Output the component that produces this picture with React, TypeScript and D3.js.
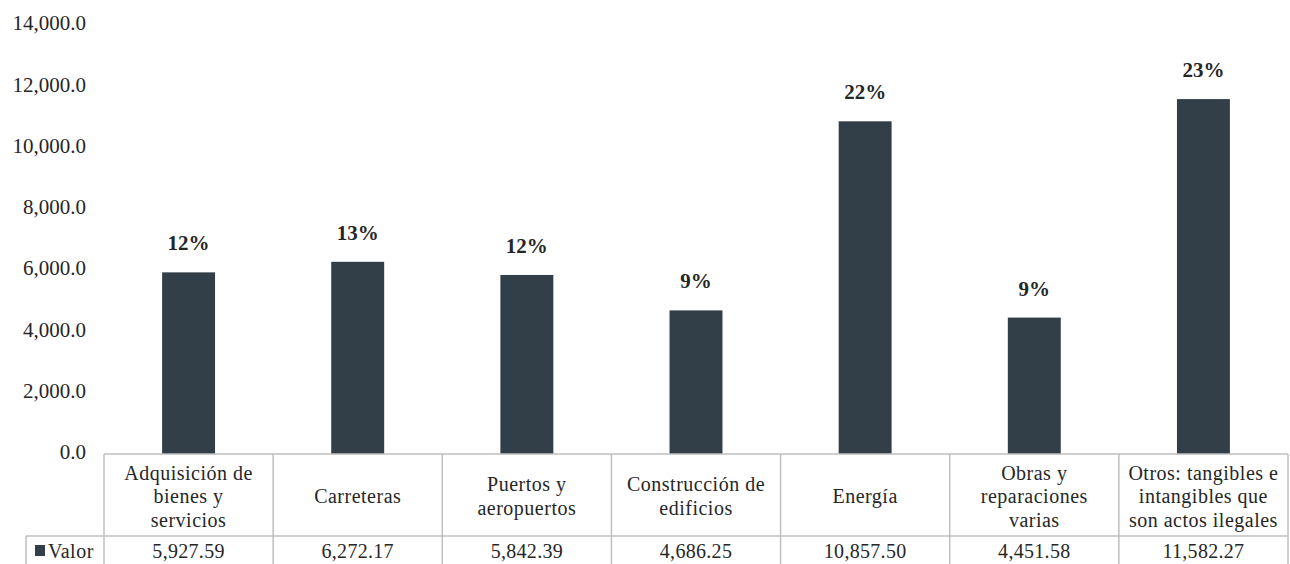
import { useRef, useEffect } from 'react';
import * as d3 from 'd3';

// categorías (líneas de texto de la tabla)
const CATEGORIES: string[][] = [
  ['Adquisición de', 'bienes y', 'servicios'],
  ['Carreteras'],
  ['Puertos y', 'aeropuertos'],
  ['Construcción de', 'edificios'],
  ['Energía'],
  ['Obras y', 'reparaciones', 'varias'],
  ['Otros: tangibles e', 'intangibles que', 'son actos ilegales']
];
const VALUES = [5927.59, 6272.17, 5842.39, 4686.25, 10857.5, 4451.58, 11582.27];
const PERCENTS = ['12%', '13%', '12%', '9%', '22%', '9%', '23%'];
const Y_TICKS = [0, 2000, 4000, 6000, 8000, 10000, 12000, 14000];
const SERIES_NAME = 'Valor';

const BAR_COLOR = '#333f48';
const GRID = '#bfbfbf';
const TEXT = '#262626';
const FONT = "'Liberation Serif', 'Times New Roman', Times, serif";

export default function App() {
  const ref = useRef<SVGSVGElement>(null);

  useEffect(() => {
    if (!ref.current) return;
    const width = 1290;
    const height = 564;
    const left = 104;
    const right = 1288;
    const top = 25;
    const zero = 454;
    const rowSplit = 536;
    const legendLeft = 26;

    const svg = d3.select(ref.current);
    svg.selectAll('*').remove();
    svg.attr('width', width).attr('height', height).style('font-family', FONT);

    const x = d3
      .scaleBand<number>()
      .domain(VALUES.map((_, i) => i))
      .range([left, right]);
    const y = d3.scaleLinear().domain([0, 14000]).range([zero, top]);
    const fmtTick = d3.format(',.1f');
    const fmtVal = d3.format(',.2f');
    const bw = x.bandwidth() * 0.313;

    // etiquetas eje Y
    svg
      .append('g')
      .selectAll('text')
      .data(Y_TICKS)
      .join('text')
      .attr('x', 86)
      .attr('y', (d) => y(d) - 2)
      .attr('dy', '0.35em')
      .attr('text-anchor', 'end')
      .attr('font-size', 21)
      .attr('fill', TEXT)
      .text((d) => fmtTick(d));

    // barras
    svg
      .append('g')
      .selectAll('rect')
      .data(VALUES)
      .join('rect')
      .attr('x', (_, i) => x(i)! + x.bandwidth() / 2 - bw / 2)
      .attr('y', (d) => y(d))
      .attr('width', bw)
      .attr('height', (d) => zero - y(d))
      .attr('fill', BAR_COLOR);

    // porcentajes
    svg
      .append('g')
      .selectAll('text')
      .data(VALUES)
      .join('text')
      .attr('x', (_, i) => x(i)! + x.bandwidth() / 2)
      .attr('y', (d) => y(d) - 22)
      .attr('text-anchor', 'middle')
      .attr('font-size', 21)
      .attr('font-weight', 'bold')
      .attr('fill', TEXT)
      .text((_, i) => PERCENTS[i]);

    // tabla de datos
    const t = svg.append('g').attr('stroke', GRID).attr('stroke-width', 1.5);
    t.append('line').attr('x1', left).attr('x2', right).attr('y1', zero).attr('y2', zero);
    t.append('line').attr('x1', legendLeft).attr('x2', right).attr('y1', rowSplit).attr('y2', rowSplit);
    t.append('line').attr('x1', legendLeft).attr('x2', legendLeft).attr('y1', rowSplit).attr('y2', height);
    t.selectAll('line.v')
      .data(d3.range(VALUES.length + 1))
      .join('line')
      .attr('class', 'v')
      .attr('x1', (i) => (i < VALUES.length ? x(i)! : right))
      .attr('x2', (i) => (i < VALUES.length ? x(i)! : right))
      .attr('y1', zero)
      .attr('y2', height);

    const lineH = 23.5;
    const cats = svg.append('g');
    CATEGORIES.forEach((lines, i) => {
      const cx = x(i)! + x.bandwidth() / 2;
      const mid = (zero + rowSplit) / 2 + 1;
      const start = mid - ((lines.length - 1) * lineH) / 2;
      lines.forEach((ln, j) => {
        cats
          .append('text')
          .attr('x', cx)
          .attr('y', start + j * lineH)
          .attr('dy', '0.35em')
          .attr('text-anchor', 'middle')
          .attr('font-size', 20)
          .attr('letter-spacing', 0.5)
          .attr('fill', TEXT)
          .text(ln);
      });
    });

    const valY = 551;
    svg
      .append('g')
      .selectAll('text')
      .data(VALUES)
      .join('text')
      .attr('x', (_, i) => x(i)! + x.bandwidth() / 2)
      .attr('y', valY)
      .attr('dy', '0.35em')
      .attr('text-anchor', 'middle')
      .attr('font-size', 20)
      .attr('letter-spacing', 0.3)
      .attr('fill', TEXT)
      .text((d) => fmtVal(d));

    // leyenda
    svg
      .append('rect')
      .attr('x', 35)
      .attr('y', 545)
      .attr('width', 10)
      .attr('height', 11)
      .attr('fill', BAR_COLOR);
    svg
      .append('text')
      .attr('x', 48)
      .attr('y', valY)
      .attr('dy', '0.35em')
      .attr('font-size', 20)
      .attr('letter-spacing', 0.5)
      .attr('fill', TEXT)
      .text(SERIES_NAME);
  }, []);

  return (
    <svg
      ref={ref}
      style={{ position: 'absolute', left: 0, top: 0, display: 'block', background: '#fff' }}
    ></svg>
  );
}
